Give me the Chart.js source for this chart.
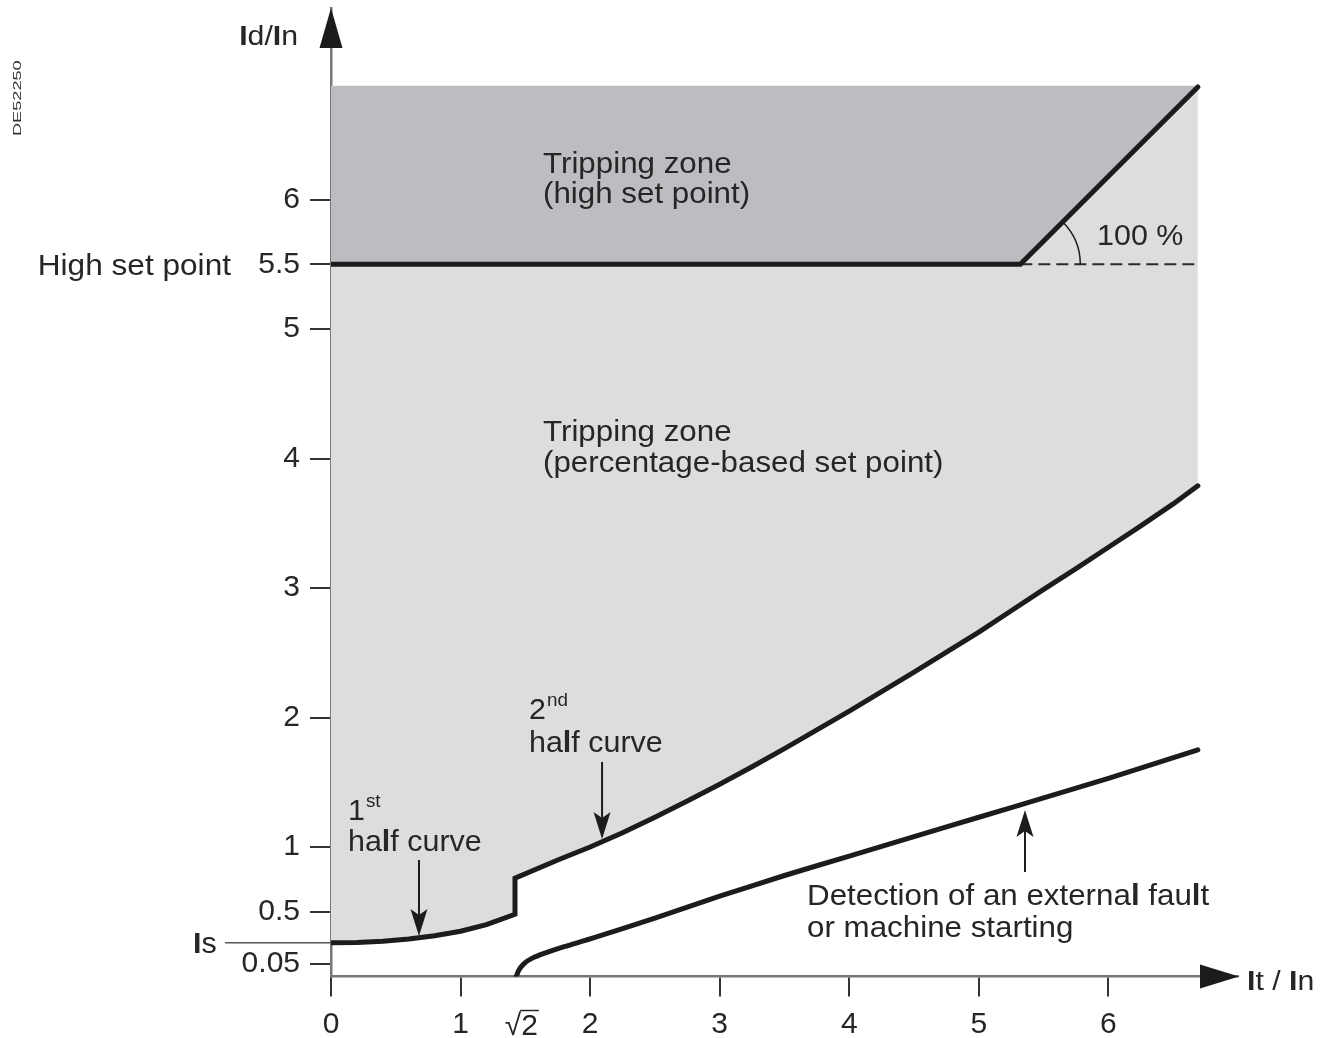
<!DOCTYPE html>
<html><head><meta charset="utf-8">
<script src="https://cdn.jsdelivr.net/npm/chart.js@4/dist/chart.umd.min.js"></script>
<style>html,body{margin:0;padding:0;background:#fff;}#wrap{width:1322px;height:1038px;}</style>
</head><body><div id="wrap"><canvas id="c" width="1322" height="1038"></canvas></div>
<script>
// ---- data ----
const zoneTopX = [0, 6.69];
const zoneTopY = [6.88, 6.88];
const highSetX = [0, 5.32, 6.69];
const highSetY = [5.5, 5.5, 6.87];
const percentX = [0, 0.2, 0.4, 0.6, 0.8, 1.0, 1.2, 1.42, 1.42, 1.75, 2.0, 2.25, 2.5, 2.75, 3.0, 3.25, 3.5, 3.75, 4.0, 4.25, 4.5, 4.75, 5.0, 5.25, 5.5, 5.75, 6.0, 6.25, 6.5, 6.69];
const percentY = [0.26, 0.262, 0.272, 0.29, 0.315, 0.35, 0.40, 0.48, 0.76, 0.90, 1.00, 1.11, 1.23, 1.355, 1.485, 1.62, 1.76, 1.905, 2.05, 2.20, 2.35, 2.505, 2.66, 2.825, 2.99, 3.15, 3.315, 3.48, 3.65, 3.79];
const detectX = [1.43, 1.45, 1.49, 1.55, 1.65, 1.8, 2.0, 2.5, 3.0, 3.5, 4.0, 4.5, 5.0, 5.5, 6.0, 6.69];
const detectY = [0, 0.05, 0.10, 0.14, 0.18, 0.23, 0.29, 0.45, 0.62, 0.78, 0.93, 1.08, 1.23, 1.38, 1.53, 1.75];
const slopeRefX = [5.32, 6.69];
const slopeRefY = [5.5, 5.5];
const yTickValues = [0.1, 0.5, 1, 2, 3, 4, 5, 5.5, 6];
const yTickLabels = ['0.05', '0.5', '1', '2', '3', '4', '5', '5.5', '6'];
const xTickValues = [0, 1, 2, 3, 4, 5, 6];
const xTickLabels = ['0', '1', '2', '3', '4', '5', '6'];
const isLevel = 0.26;
const sqrt2 = Math.SQRT2;

const pts = (xs, ys) => xs.map((x, i) => ({x, y: ys[i]}));
const FAM = '"Liberation Sans", Arial, Helvetica, sans-serif';
const INK = '#1c1c1c';
const TXT = '#262626';

function drawRich(ctx, text, x, y, size, align, boldChars, sx) {
  sx = sx || 1;
  const reg = size + 'px ' + FAM, bold = 'bold ' + size + 'px ' + FAM;
  const runs = [];
  for (const ch of text) {
    const f = boldChars && boldChars.includes(ch) ? bold : reg;
    if (runs.length && runs[runs.length - 1].f === f) runs[runs.length - 1].t += ch;
    else runs.push({t: ch, f});
  }
  let w = 0;
  runs.forEach(r => { ctx.font = r.f; r.w = ctx.measureText(r.t).width; w += r.w; });
  let cx = align === 'right' ? x - w * sx : align === 'center' ? x - w * sx / 2 : x;
  ctx.save();
  ctx.translate(cx, y); ctx.scale(sx, 1);
  ctx.textAlign = 'left'; ctx.textBaseline = 'alphabetic';
  let px = 0;
  runs.forEach(r => { ctx.font = r.f; ctx.fillText(r.t, px, 0); px += r.w; });
  ctx.restore();
  return w * sx;
}
function arrowHead(ctx, tx, ty, dx, dy, len, half) {
  const nx = -dy, ny = dx;
  ctx.beginPath();
  ctx.moveTo(tx, ty);
  ctx.lineTo(tx - dx * len + nx * half, ty - dy * len + ny * half);
  ctx.lineTo(tx - dx * len * 0.78, ty - dy * len * 0.78);
  ctx.lineTo(tx - dx * len - nx * half, ty - dy * len - ny * half);
  ctx.closePath(); ctx.fill();
}
function vArrow(ctx, x, y0, y1) {
  const dir = y1 > y0 ? 1 : -1;
  ctx.beginPath(); ctx.moveTo(x, y0); ctx.lineTo(x, y1 - dir * 10); ctx.stroke();
  arrowHead(ctx, x, y1, 0, dir, 27, 8.5);
}

const decor = {
  id: 'decor',
  afterDraw(chart) {
    const ctx = chart.ctx, xs = chart.scales.x, ys = chart.scales.y;
    const X = v => xs.getPixelForValue(v), Y = v => ys.getPixelForValue(v);
    const ca = chart.chartArea;
    ctx.save();
    ctx.fillStyle = INK; ctx.strokeStyle = INK;
    // axis arrows
    ctx.beginPath(); ctx.moveTo(ca.left, ca.top);
    ctx.lineTo(ca.left - 11.5, ca.top + 40); ctx.lineTo(ca.left + 11.5, ca.top + 40); ctx.closePath(); ctx.fill();
    const y0 = Y(0);
    ctx.beginPath(); ctx.moveTo(ca.right + 1, y0);
    ctx.lineTo(ca.right - 38, y0 - 12); ctx.lineTo(ca.right - 38, y0 + 12); ctx.closePath(); ctx.fill();
    // axis titles
    ctx.fillStyle = TXT;
    drawRich(ctx, 'Id/In', ca.left - 33, ca.top + 37, 27, 'right', 'I', 1.12);
    drawRich(ctx, 'It / In', ca.right + 9, y0 + 13, 27, 'left', 'I', 1.12);
    // Is level
    ctx.strokeStyle = '#555'; ctx.lineWidth = 1.5;
    ctx.beginPath(); ctx.moveTo(ca.left - 106, Y(isLevel)); ctx.lineTo(ca.left, Y(isLevel)); ctx.stroke();
    drawRich(ctx, 'Is', ca.left - 138, Y(isLevel) + 10, 29, 'left', 'I', 1.05);
    // High set point label
    drawRich(ctx, 'High set point', ca.left - 100, Y(5.5) + 11, 29, 'right', null, 1.09);
    // sqrt2 label
    ctx.font = '30px ' + FAM;
    const sx0 = X(sqrt2) + 7, by = y0 + 58;
    const wRad = ctx.measureText('\u221A').width, w2 = ctx.measureText('2').width;
    const left = sx0 - (wRad + w2) / 2;
    ctx.textAlign = 'left'; ctx.textBaseline = 'alphabetic';
    ctx.fillText('\u221A', left, by);
    ctx.fillText('2', left + wRad, by);
    ctx.strokeStyle = TXT; ctx.lineWidth = 1.5;
    ctx.beginPath(); ctx.moveTo(left + wRad - 1, by - 24); ctx.lineTo(left + wRad + w2 + 1, by - 24); ctx.stroke();
    // zone labels
    ctx.fillStyle = TXT;
    drawRich(ctx, 'Tripping zone', X(1.636), Y(6.207), 29, 'left', null, 1.08);
    drawRich(ctx, '(high set point)', X(1.636), Y(5.975), 29, 'left', null, 1.08);
    drawRich(ctx, 'Tripping zone', X(1.636), Y(4.136), 29, 'left', null, 1.08);
    drawRich(ctx, '(percentage-based set point)', X(1.636), Y(3.896), 29, 'left', null, 1.08);
    drawRich(ctx, '100 %', X(5.912), Y(5.65), 29, 'left', null, 1.05);
    // angle arc
    ctx.strokeStyle = INK; ctx.lineWidth = 1.5;
    ctx.beginPath(); ctx.arc(X(5.32), Y(5.5), 60, -Math.PI / 4, 0); ctx.stroke();
    // half curve labels
    let w = drawRich(ctx, '2', X(1.528), Y(1.989), 29, 'left', null, 1.05);
    drawRich(ctx, 'nd', X(1.528) + w + 1, Y(1.989) - 13, 18, 'left', null, 1.05);
    drawRich(ctx, 'half curve', X(1.528), Y(1.734), 29, 'left', 'l', 1.05);
    w = drawRich(ctx, '1', X(0.131), Y(1.209), 29, 'left', null, 1.05);
    drawRich(ctx, 'st', X(0.131) + w + 1, Y(1.209) - 13, 18, 'left', null, 1.05);
    drawRich(ctx, 'half curve', X(0.131), Y(0.969), 29, 'left', 'l', 1.05);
    drawRich(ctx, 'Detection of an external fault', X(3.674), Y(0.553), 29, 'left', 'l', 1.08);
    drawRich(ctx, 'or machine starting', X(3.674), Y(0.305), 29, 'left', 'l', 1.08);
    // pointer arrows
    ctx.strokeStyle = INK; ctx.fillStyle = INK; ctx.lineWidth = 2;
    vArrow(ctx, X(0.679), Y(0.90), Y(0.313));
    vArrow(ctx, X(2.092), Y(1.657), Y(1.062));
    vArrow(ctx, X(5.356), Y(0.807), Y(1.286));
    // document code
    ctx.save();
    ctx.translate(21, 136); ctx.rotate(-Math.PI / 2);
    ctx.fillStyle = '#333';
    drawRich(ctx, 'DE52250', 0, 0, 11, 'left', null, 1.65);
    ctx.restore();
    ctx.restore();
  }
};

new Chart(document.getElementById('c'), {
  type: 'scatter',
  data: {
    datasets: [
      {data: pts(zoneTopX, zoneTopY), showLine: true, borderWidth: 0, borderColor: 'rgba(0,0,0,0)', pointRadius: 0, fill: false},
      {data: pts(highSetX, highSetY), showLine: true, borderWidth: 5, borderColor: INK, pointRadius: 0,
       fill: 0, backgroundColor: '#bcbdc0', borderCapStyle: 'round'},
      {data: pts(percentX, percentY), showLine: true, borderWidth: 5, borderColor: INK, pointRadius: 0,
       fill: 1, backgroundColor: '#dcdddf', borderCapStyle: 'round', borderJoinStyle: 'miter'},
      {data: pts(detectX, detectY), showLine: true, borderWidth: 5, borderColor: INK, pointRadius: 0,
       fill: false, borderCapStyle: 'round', tension: 0.25},
      {data: pts(slopeRefX, slopeRefY), showLine: true, borderWidth: 2, borderColor: '#2a2a2a', borderDash: [12, 6],
       pointRadius: 0, fill: false}
    ]
  },
  options: {
    responsive: false, animation: false, events: [],
    layout: {padding: {top: 8, left: 0, right: 84, bottom: 0}},
    plugins: {legend: {display: false}, tooltip: {enabled: false}, filler: {drawTime: 'beforeDatasetsDraw'}},
    scales: {
      x: {
        type: 'linear', min: 0, max: 7.0, z: 1,
        afterBuildTicks: s => { s.ticks = xTickValues.map(v => ({value: v})); },
        afterFit: s => { s.height = 61.5; s.paddingLeft = 0; s.paddingRight = 0; },
        ticks: {callback: v => xTickLabels[xTickValues.indexOf(v)], font: {family: FAM, size: 30}, color: TXT,
                padding: 10, maxRotation: 0, autoSkip: false},
        grid: {drawOnChartArea: false, drawTicks: true, tickLength: 20, color: '#333', lineWidth: 2},
        border: {display: true, color: '#777', width: 2.5}
      },
      y: {
        type: 'linear', min: 0, max: 7.48, z: 1,
        afterBuildTicks: s => { s.ticks = yTickValues.map(v => ({value: v})); },
        afterFit: s => { s.width = 331; s.paddingTop = 0; s.paddingBottom = 0; },
        ticks: {callback: v => yTickLabels[yTickValues.indexOf(v)], font: {family: FAM, size: 30}, color: TXT,
                padding: 10, autoSkip: false},
        grid: {drawOnChartArea: false, drawTicks: true, tickLength: 21, color: '#333', lineWidth: 2},
        border: {display: true, color: '#777', width: 2.5}
      }
    }
  },
  plugins: [decor]
});
</script>
</body></html>
